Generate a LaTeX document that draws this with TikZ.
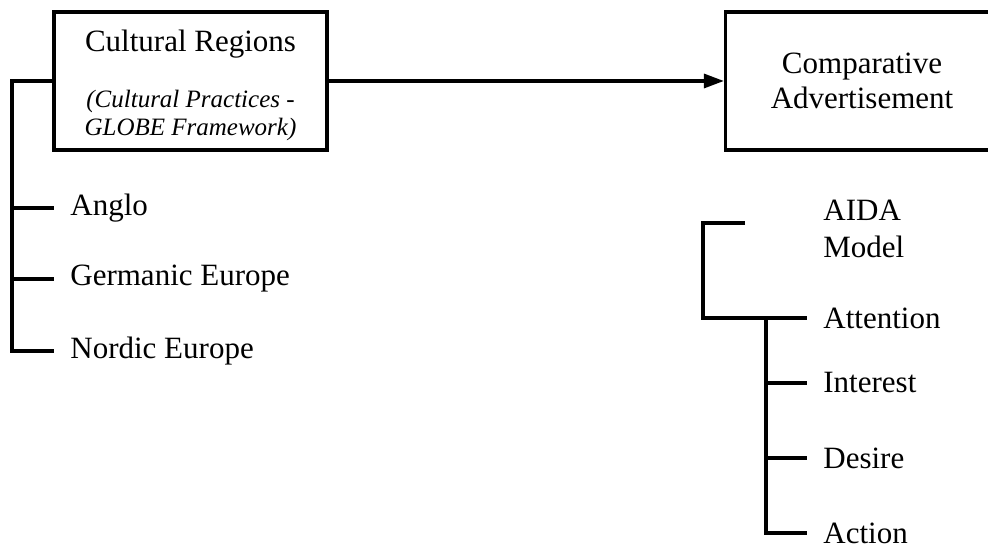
\documentclass[tikz,border=0pt]{standalone}
\usepackage{fontspec}
\setmainfont{Liberation Serif}
\usetikzlibrary{arrows.meta, positioning}

\tikzset{
    box/.style={draw, line width=1.6pt, minimum width=136.5pt, minimum height=69pt, align=center, inner sep=0pt},
    leaf/.style={anchor=west, inner xsep=8pt, inner ysep=0pt},
    link/.style={line width=1.6pt},
}

\begin{document}
\begin{tikzpicture}[x=0.5pt, y=-0.5pt, font=\fontsize{15.5}{18}\selectfont, >={Triangle[length=10pt, width=7pt]}]
        \clip (0,0) rectangle (988,550);
        \node[box] (regions) at (190.5,81) {\rule{0pt}{14.8pt}Cultural Regions\\[10pt]{\fontsize{12.5}{14}\selectfont\itshape (Cultural Practices -}\\[-4pt]{\fontsize{12.5}{14}\selectfont\itshape GLOBE Framework)}};
        \node[box, font=\fontsize{15.5}{17.5}\selectfont] (compad) at (862,81) {Comparative\\Advertisement};
        \draw[link, ->] (regions) -- (compad);

        % cultural regions
        \coordinate (lspine) at (12,81);
        \node[leaf] (anglo) at (54,208) {Anglo};
        \node[leaf] (germanic) at (54,279) {Germanic Europe};
        \node[leaf] (nordic) at (54,351) {Nordic Europe};
        \draw[link] (regions.west) -- (lspine) |- (nordic.west);
        \draw[link] (lspine |- anglo.west) -- (anglo.west);
        \draw[link] (lspine |- germanic.west) -- (germanic.west);

        % AIDA model
        \node[leaf, align=left, font=\fontsize{15.5}{18.5}\selectfont] (aida) at (807,229) {AIDA\\Model};
        \coordinate (aidatip) at (745,223);
        \coordinate (acorner) at (703,223);
        \node[leaf] (attention) at (807,318) {Attention};
        \node[leaf] (interest) at (807,383) {Interest};
        \node[leaf] (desire) at (807,458) {Desire};
        \node[leaf] (action) at (807,533) {Action};
        \coordinate (aspine) at (766,318);
        \draw[link] (aidatip) -- (acorner) |- (attention.west);
        \draw[link] (aspine) |- (action.west);
        \draw[link] (aspine |- interest.west) -- (interest.west);
        \draw[link] (aspine |- desire.west) -- (desire.west);
    \end{tikzpicture}
\end{document}
